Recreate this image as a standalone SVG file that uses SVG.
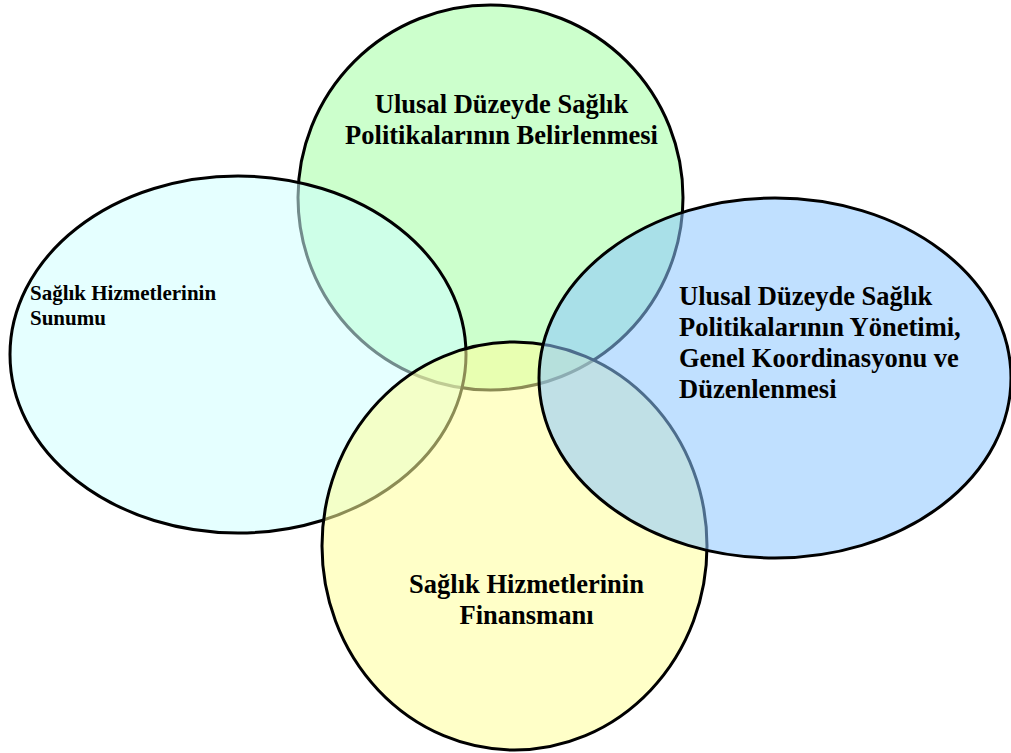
<svg xmlns="http://www.w3.org/2000/svg" width="1011" height="753" viewBox="0 0 1011 753">
<style>
.sh{stroke:#000;stroke-width:3}
.t{font-family:"Liberation Serif","Times New Roman",serif;font-weight:bold;fill:#000}
.big{font-size:26.5px}
.small{font-size:21px}
</style>
<rect width="1011" height="753" fill="#fff"/>
<g id="node-politikalar">
<ellipse class="sh" cx="490.5" cy="197.5" rx="192.5" ry="192.5" fill="#ccffcc"/>
</g>
<g id="node-sunum">
<ellipse class="sh" cx="238" cy="354.5" rx="228" ry="178.5" fill="rgb(208,255,255)" fill-opacity="0.55"/>
</g>
<g id="node-finansman">
<ellipse class="sh" cx="514.5" cy="546" rx="192.5" ry="204" fill="rgb(255,255,155)" fill-opacity="0.55"/>
</g>
<g id="node-yonetim">
<ellipse class="sh" cx="775" cy="378" rx="236" ry="180" fill="rgb(140,199,255)" fill-opacity="0.55"/>
</g>
<g id="connectors"></g>
<g id="labels">
<text class="t big" x="501.5" y="113" text-anchor="middle">Ulusal Düzeyde Sağlık</text>
<text class="t big" x="501.5" y="144" text-anchor="middle">Politikalarının Belirlenmesi</text>
<text class="t small" x="30" y="300">Sağlık Hizmetlerinin</text>
<text class="t small" x="30" y="325">Sunumu</text>
<text class="t big" x="679" y="305">Ulusal Düzeyde Sağlık</text>
<text class="t big" x="679" y="336">Politikalarının Yönetimi,</text>
<text class="t big" x="679" y="367">Genel Koordinasyonu ve</text>
<text class="t big" x="679" y="398">Düzenlenmesi</text>
<text class="t big" x="526.5" y="593" text-anchor="middle">Sağlık Hizmetlerinin</text>
<text class="t big" x="526.5" y="624" text-anchor="middle">Finansmanı</text>
</g>
</svg>
